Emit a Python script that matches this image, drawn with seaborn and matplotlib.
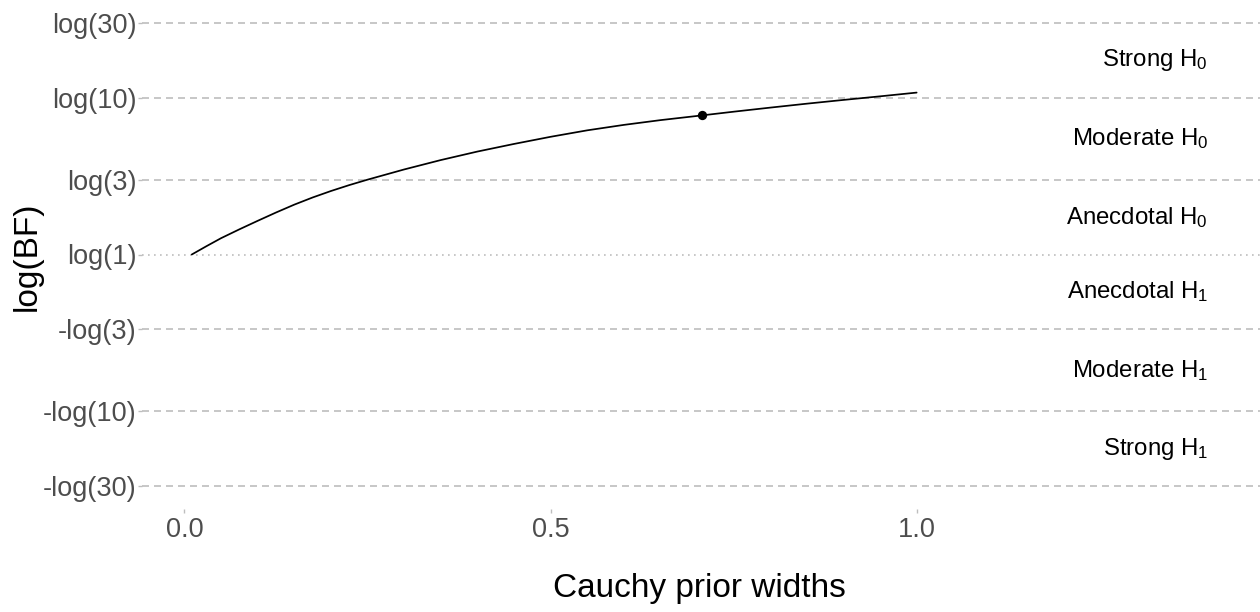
import numpy as np
import pandas as pd
import matplotlib
matplotlib.use("Agg")
import matplotlib.pyplot as plt
import seaborn as sns

# ---- data ----
prior_width = [0.01, 0.03, 0.05, 0.075, 0.10, 0.125, 0.15, 0.175, 0.20, 0.225, 0.25,
               0.30, 0.35, 0.40, 0.45, 0.50, 0.55, 0.60, 0.65, 0.707,
               0.75, 0.80, 0.85, 0.90, 0.95, 1.00]
log_bf = [0.00, 0.122, 0.24, 0.37, 0.495, 0.617, 0.733, 0.838, 0.933, 1.02, 1.10,
          1.25, 1.388, 1.513, 1.625, 1.73, 1.825, 1.905, 1.975, 2.045,
          2.099, 2.159, 2.217, 2.272, 2.325, 2.38]
user_width = [0.707]
user_log_bf = [2.045]

bf_breaks = [30, 10, 3, 1, 1 / 3, 1 / 10, 1 / 30]
bf_tick_labels = ["log(30)", "log(10)", "log(3)", "log(1)", "-log(3)", "-log(10)", "-log(30)"]
x_ticks = [0.0, 0.5, 1.0]
x_tick_labels = ["0.0", "0.5", "1.0"]
evidence_labels = [r"Strong $\mathregular{H_0}$", r"Moderate $\mathregular{H_0}$",
                   r"Anecdotal $\mathregular{H_0}$", r"Anecdotal $\mathregular{H_1}$",
                   r"Moderate $\mathregular{H_1}$", r"Strong $\mathregular{H_1}$"]

df = pd.DataFrame({"r": prior_width, "logbf": log_bf})
df_pt = pd.DataFrame({"r": user_width, "logbf": user_log_bf})

sns.set_theme(style="white")
plt.rcParams["font.family"] = ["Liberation Sans", "DejaVu Sans"]
plt.rcParams["mathtext.fontset"] = "custom"
plt.rcParams["mathtext.rm"] = "Liberation Sans"
plt.rcParams["mathtext.it"] = "Liberation Sans:italic"

W, H, DPI = 1260, 612, 100
fig = plt.figure(figsize=(W / DPI, H / DPI), dpi=DPI)
ax = fig.add_axes([142 / W, 1 - 509 / H, 1 - 142 / W, 509 / H])

grid_col = "#BEBEBE"
yvals = np.log(bf_breaks)
for v, lab in zip(yvals, bf_tick_labels):
    if lab == "log(1)":
        ax.axhline(v, color=grid_col, lw=1.2, ls=(0, (1.0, 2.6)), zorder=1)
    else:
        ax.axhline(v, color=grid_col, lw=1.2, ls=(0, (4.2, 3.0)), zorder=1)

sns.lineplot(data=df, x="r", y="logbf", color="black", lw=1.25, ax=ax, zorder=3)
sns.scatterplot(data=df_pt, x="r", y="logbf", color="black", s=45, edgecolor="black",
                linewidth=0, ax=ax, zorder=4)

mids = (yvals[:-1] + yvals[1:]) / 2
for m, lab in zip(mids, evidence_labels):
    ax.text(1.398, m, lab, ha="right", va="center", fontsize=17.3, color="black")

ax.set_xlim(-0.058, 1.469)
ax.set_ylim(-3.741, 3.741)
ax.set_yticks(yvals)
ax.set_yticklabels(bf_tick_labels)
ax.set_xticks(x_ticks)
ax.set_xticklabels(x_tick_labels)
ax.tick_params(axis="both", labelsize=19.5, labelcolor="#4D4D4D", color="#BEBEBE",
               length=3, width=1, direction="out")
ax.tick_params(axis="y", pad=1)
ax.tick_params(axis="x", pad=3)
ax.tick_params(left=True, bottom=True)
for s in ax.spines.values():
    s.set_visible(False)

ax.set_xlabel("Cauchy prior widths", fontsize=24, color="black")
ax.set_ylabel("log(BF)", fontsize=24, color="black")
ax.xaxis.set_label_coords((699 - 142) / (W - 142), (509 - 573) / 509)
ax.yaxis.set_label_coords((43 - 142) / (W - 142), (509 - 256) / 509)

fig.savefig("out.png", dpi=DPI, facecolor="white")
